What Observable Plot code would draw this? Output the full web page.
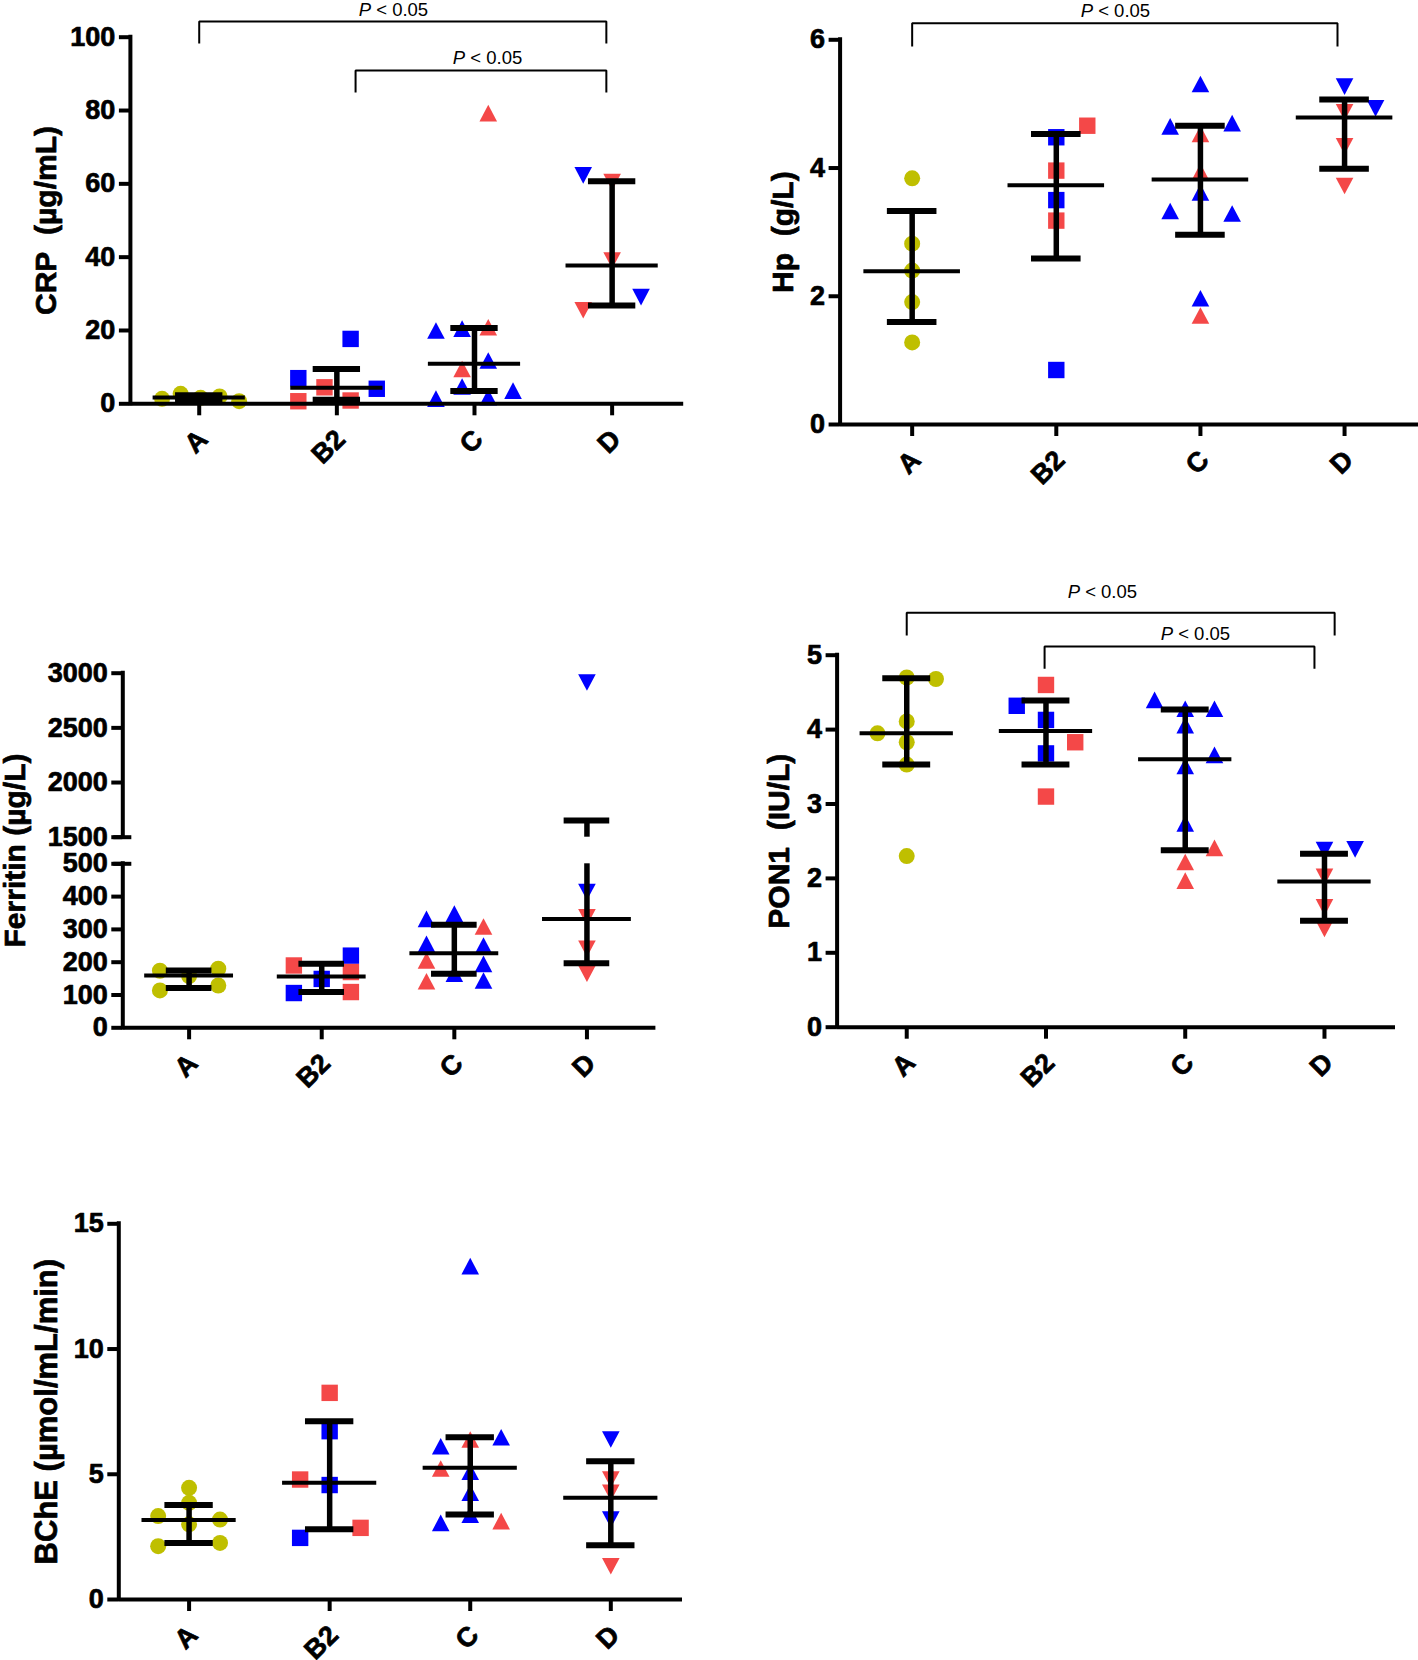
<!DOCTYPE html>
<html><head><meta charset="utf-8">
<script src="https://cdn.jsdelivr.net/npm/d3@7"></script>
<script src="https://cdn.jsdelivr.net/npm/@observablehq/plot@0.6"></script>
<style>
html,body{margin:0;padding:0;background:#fff;}
#fig{position:relative;width:1418px;height:1660px;background:#fff;overflow:hidden;}
#fig svg{position:absolute;overflow:visible;}
#fig text.heavy{stroke:#000;stroke-width:0.7px;stroke-linejoin:round;}
</style></head><body><div id="fig"></div>
<script>
// ---------- data ----------
const groups = ["A", "B2", "C", "D"];
const seriesKeys = ["series1", "series2", "series3"];
const seriesColors = ["#bfbf00", "#f44848", "#0000ff"];

// [group, series, value, horizontal spread (fraction of category step)]
const crpPoints = [
  ["A","series1",1.36,-0.27],["A","series1",2.73,-0.135],["A","series1",1.64,0.01],["A","series1",2.0,0.148],["A","series1",0.71,0.29],
  ["B2","series3",7.0,-0.28],["B2","series3",17.7,0.10],["B2","series3",4.1,0.29],["B2","series2",0.7,-0.28],["B2","series2",4.5,-0.09],["B2","series2",0.9,0.10],
  ["C","series3",20.0,-0.28],["C","series3",20.5,-0.09],["C","series3",11.8,0.10],["C","series3",4.7,-0.09],["C","series3",1.4,-0.28],["C","series3",1.8,0.10],["C","series3",3.6,0.28],
  ["C","series2",79.3,0.10],["C","series2",20.9,0.10],["C","series2",9.5,-0.09],
  ["D","series3",62.3,-0.21],["D","series3",29.1,0.21],["D","series2",60.5,0],["D","series2",39.1,0],["D","series2",25.5,-0.21]
];
const crpMean = [1.75, 4.36, 10.9, 37.7];
const crpLow  = [1.05, 1.1, 3.5, 26.8];
const crpHigh = [2.35, 9.5, 20.7, 60.7];

const hpPoints = [
  ["A","series1",3.84,0],["A","series1",2.82,0],["A","series1",2.40,0],["A","series1",1.91,0],["A","series1",1.28,0],
  ["B2","series2",4.66,0.215],["B2","series2",3.96,0],["B2","series2",3.18,0],["B2","series3",4.48,0],["B2","series3",3.50,0],["B2","series3",0.85,0],
  ["C","series3",5.31,0],["C","series3",4.65,-0.21],["C","series3",4.70,0.22],["C","series3",3.62,0],["C","series3",3.33,-0.21],["C","series3",3.29,0.22],["C","series3",1.97,0],
  ["C","series2",4.53,0],["C","series2",3.94,0],["C","series2",1.70,0],
  ["D","series3",5.27,0],["D","series3",4.93,0.215],["D","series2",4.87,0],["D","series2",4.34,0],["D","series2",3.72,0]
];
const hpMean = [2.39, 3.73, 3.82, 4.79];
const hpLow  = [1.60, 2.59, 2.96, 3.99];
const hpHigh = [3.33, 4.53, 4.66, 5.07];

const ferPoints = [
  ["A","series1",174,-0.22],["A","series1",114,-0.22],["A","series1",158,0],["A","series1",180,0.22],["A","series1",129,0.22],
  ["B2","series2",190,-0.21],["B2","series3",106,-0.21],["B2","series3",149,0],["B2","series3",220,0.22],["B2","series2",170,0.22],["B2","series2",109,0.22],
  ["C","series3",332,-0.21],["C","series3",348,0],["C","series2",309,0.22],["C","series3",256,-0.21],["C","series3",251,0.22],["C","series2",205,-0.21],
  ["C","series3",195,0.22],["C","series2",142,-0.21],["C","series3",144,0.22],["C","series3",165,0],
  ["D","series3",2915,0],["D","series3",414,0],["D","series2",337,0],["D","series2",241,0],["D","series2",165,0]
];
const ferMean = [159.5, 156.5, 227.6, 332];
const ferLow  = [121, 109, 164.6, 197];
const ferHigh = [175, 195, 314, 1652];

const ponPoints = [
  ["A","series1",4.70,0],["A","series1",4.68,0.21],["A","series1",3.95,-0.21],["A","series1",4.11,0],["A","series1",3.83,0],["A","series1",3.53,0],["A","series1",2.30,0],
  ["B2","series2",4.60,0],["B2","series3",4.32,-0.21],["B2","series3",4.13,0],["B2","series2",3.83,0.21],["B2","series3",3.68,0],["B2","series2",3.10,0],
  ["C","series3",4.40,-0.22],["C","series3",4.28,0],["C","series3",4.28,0.21],["C","series3",4.06,0],["C","series3",3.66,0.21],["C","series3",3.51,0],["C","series3",2.74,0],
  ["C","series2",2.41,0.21],["C","series2",2.22,0],["C","series2",1.97,0],
  ["D","series3",2.38,0],["D","series3",2.39,0.22],["D","series2",2.02,0],["D","series2",1.61,0],["D","series2",1.32,0]
];
const ponMean = [3.95, 3.98, 3.60, 1.96];
const ponLow  = [3.53, 3.53, 2.38, 1.43];
const ponHigh = [4.69, 4.39, 4.27, 2.33];

const bchePoints = [
  ["A","series1",4.46,0],["A","series1",3.33,-0.22],["A","series1",3.86,0],["A","series1",3.0,0],["A","series1",3.19,0.22],["A","series1",2.13,-0.22],["A","series1",2.26,0.22],
  ["B2","series2",8.25,0],["B2","series3",6.72,0],["B2","series2",4.79,-0.21],["B2","series3",4.57,0],["B2","series2",2.86,0.22],["B2","series3",2.46,-0.21],
  ["C","series3",13.31,0],["C","series3",6.12,-0.21],["C","series2",6.39,0],["C","series3",6.48,0.22],["C","series2",5.23,-0.21],["C","series3",5.10,0],["C","series3",4.26,0],
  ["C","series3",3.39,0],["C","series3",3.06,-0.21],["C","series2",3.13,0.22],
  ["D","series3",6.39,0],["D","series2",4.79,0],["D","series2",4.26,0],["D","series3",3.19,0],["D","series2",1.33,0]
];
const bcheMean = [3.17, 4.66, 5.26, 4.06];
const bcheLow  = [2.26, 2.80, 3.39, 2.17];
const bcheHigh = [3.77, 7.12, 6.48, 5.52];

const crpTicks = [0, 20, 40, 60, 80, 100];
const hpTicks = [0, 2, 4, 6];
const ferTicks = [0, 100, 200, 300, 400, 500, 1500, 2000, 2500, 3000];
const ponTicks = [0, 1, 2, 3, 4, 5];
const bcheTicks = [0, 5, 10, 15];

// significance brackets (category-index / data units)
const crpBrackets = [
  {x1: 0, x2: 2.958, y: 104.3, drop: 98.3, labelX: 1.411, labelY: 105.9, label: "P < 0.05"},
  {x1: 1.136, x2: 2.958, y: 90.9, drop: 84.9, labelX: 2.095, labelY: 92.7, label: "P < 0.05"}
];
const hpBrackets = [
  {x1: 0, x2: 2.951, y: 6.259, drop: 5.897, labelX: 1.41, labelY: 6.352, label: "P < 0.05"}
];
const ponBrackets = [
  {x1: 0, x2: 3.073, y: 5.570, drop: 5.265, labelX: 1.405, labelY: 5.771, label: "P < 0.05"},
  {x1: 0.99, x2: 2.928, y: 5.117, drop: 4.817, labelX: 2.073, labelY: 5.198, label: "P < 0.05"}
];

// ---------- drawing ----------
const rOf = p => Math.sqrt(p / Math.PI);
const symbols = {
  A:  {draw(c, s) { const r = rOf(s); c.moveTo(r, 0); c.arc(0, 0, r, 0, 2 * Math.PI); c.closePath(); }},
  B2: {draw(c, s) { const r = rOf(s); c.rect(-r, -r, 2 * r, 2 * r); }},
  C:  {draw(c, s) { const r = rOf(s); c.moveTo(0, -r); c.lineTo(1.06 * r, r); c.lineTo(-1.06 * r, r); c.closePath(); }},
  D:  {draw(c, s) { const r = rOf(s); c.moveTo(0, r); c.lineTo(1.06 * r, -r); c.lineTo(-1.06 * r, -r); c.closePath(); }}
};
const markerR = {A: 8, B2: 8.2, C: 8.3, D: 8.3};

function panel(cfg) {
  const {left, top, width, height, xRange, xMax, yDomain, yRange, yTicks,
         points, mean, low, high, title, titleDx, titleSize = 30, brackets = [], yBreak = null} = cfg;
  const xDomain = [-0.5, xMax];
  const yMin = yDomain[0], yMax = yDomain[yDomain.length - 1];
  const pts = points.map(([g, s, v, sp]) => ({g, s, v, x: groups.indexOf(g) + sp}));
  const stats = groups.map((g, i) => ({i, mean: mean[i], low: low[i], high: high[i]}));
  const axisSegs = yBreak ? [[yMin, yBreak[0]], [yBreak[1], yMax]] : [[yMin, yMax]];
  const vSegs = [];
  for (const d of stats) {
    if (yBreak && d.high > yBreak[1]) {
      vSegs.push({i: d.i, y1: d.low, y2: yBreak[0]});
      vSegs.push({i: d.i, y1: yBreak[1], y2: d.high});
    } else vSegs.push({i: d.i, y1: d.low, y2: d.high});
  }
  const bracketPath = brackets.flatMap((b, k) => [
    {k, x: b.x1, y: b.drop}, {k, x: b.x1, y: b.y}, {k, x: b.x2, y: b.y}, {k, x: b.x2, y: b.drop}
  ]);
  const heavy = {fontWeight: "bold", className: "heavy"};
  const marks = [];
  for (const g of groups) {
    marks.push(Plot.dot(pts.filter(p => p.g === g), {x: "x", y: "v", fill: "s", r: markerR[g], symbol: symbols[g]}));
  }
  marks.push(
    Plot.ruleX(vSegs, {x: "i", y1: "y1", y2: "y2", stroke: "black", strokeWidth: 5.5}),
    Plot.ruleY(stats, {y: "high", x1: d => d.i - 0.172, x2: d => d.i + 0.172, stroke: "black", strokeWidth: 6}),
    Plot.ruleY(stats, {y: "low", x1: d => d.i - 0.172, x2: d => d.i + 0.172, stroke: "black", strokeWidth: 6}),
    Plot.ruleY(stats, {y: "mean", x1: d => d.i - 0.335, x2: d => d.i + 0.335, stroke: "black", strokeWidth: 4}),
    // axes
    Plot.ruleX(axisSegs, {x: xDomain[0], y1: d => d[0], y2: d => d[1], stroke: "black", strokeWidth: 4, strokeLinecap: "square"}),
    Plot.ruleY([yMin], {x1: xDomain[0], x2: xDomain[1], stroke: "black", strokeWidth: 4}),
    Plot.axisY({ticks: yTicks, tickSize: 11, strokeWidth: 4, tickFormat: () => "", label: null}),
    Plot.text(yTicks, {x: xDomain[0], y: d => d, text: d => String(d), textAnchor: "end", dx: -15, fontSize: 27, ...heavy}),
    Plot.axisX({ticks: [0, 1, 2, 3], tickSize: 12, strokeWidth: 4, tickFormat: () => "", label: null}),
    Plot.text(groups, {x: (d, i) => i, y: yMin, text: d => d, rotate: -45, textAnchor: "end", lineAnchor: "middle", dx: 4, dy: 31, fontSize: 27, ...heavy}),
    Plot.text([title], {frameAnchor: "left", dx: titleDx, rotate: -90, textAnchor: "middle", lineAnchor: "middle", fontSize: titleSize, ...heavy})
  );
  if (yBreak) {
    marks.push(Plot.ruleY(yBreak, {x1: xDomain[0] - 0.068, x2: xDomain[0] + 0.068, stroke: "black", strokeWidth: 4}));
  }
  if (brackets.length) {
    marks.push(
      Plot.line(bracketPath, {x: "x", y: "y", z: "k", stroke: "black", strokeWidth: 2, strokeLinejoin: "miter", strokeLinecap: "butt"}),
      Plot.text(brackets, {x: "labelX", y: "labelY", text: "label", lineAnchor: "bottom", fontSize: 18.5, fontWeight: "normal"})
    );
  }
  const svg = Plot.plot({
    width, height,
    marginLeft: xRange[0], marginRight: width - xRange[1],
    marginTop: yRange[yRange.length - 1], marginBottom: height - yRange[0],
    x: {type: "linear", domain: xDomain, range: xRange},
    y: {type: "linear", domain: yDomain, range: yRange},
    color: {type: "ordinal", domain: seriesKeys, range: seriesColors},
    style: {fontFamily: '"Liberation Sans", Arial, Helvetica, sans-serif', fontWeight: "bold", color: "black", background: "none", overflow: "visible"},
    marks
  });
  // mark heavy texts, italic P in significance labels
  for (const g of svg.querySelectorAll("g.heavy")) for (const t of g.querySelectorAll("text")) t.classList.add("heavy");
  for (const t of svg.querySelectorAll("text")) {
    if (t.textContent === "P < 0.05") {
      t.textContent = "";
      const ns = "http://www.w3.org/2000/svg";
      const a = document.createElementNS(ns, "tspan");
      a.setAttribute("font-style", "italic");
      a.textContent = "P";
      const b = document.createElementNS(ns, "tspan");
      b.textContent = " < 0.05";
      t.append(a, b);
    }
  }
  svg.style.position = "absolute";
  svg.style.left = left + "px";
  svg.style.top = top + "px";
  svg.style.maxWidth = "none";
  document.getElementById("fig").append(svg);
}

panel({left: 0, top: 0, width: 700, height: 480, xRange: [129.9, 683.2], xMax: 3.52,
  yDomain: [0, 100], yRange: [403.3, 36.7], yTicks: crpTicks,
  points: crpPoints, mean: crpMean, low: crpLow, high: crpHigh,
  title: "CRP\u00a0 (µg/mL)", titleDx: -84, brackets: crpBrackets});

panel({left: 700, top: 0, width: 718, height: 480, xRange: [139.6, 718], xMax: 3.513,
  yDomain: [0, 6], yRange: [424, 39.3], yTicks: hpTicks,
  points: hpPoints, mean: hpMean, low: hpLow, high: hpHigh,
  title: "Hp\u00a0 (g/L)", titleDx: -57, brackets: hpBrackets});

panel({left: 0, top: 560, width: 700, height: 520, xRange: [122.3, 655.4], xMax: 3.52,
  yDomain: [0, 500, 1500, 3000], yRange: [467.3, 303.3, 276.7, 112.7], yTicks: ferTicks,
  points: ferPoints, mean: ferMean, low: ferLow, high: ferHigh,
  title: "Ferritin (µg/L)", titleDx: -107.5, yBreak: [500, 1500]});

panel({left: 700, top: 560, width: 718, height: 520, xRange: [136.6, 695], xMax: 3.51,
  yDomain: [0, 5], yRange: [466.7, 94.7], yTicks: ponTicks,
  points: ponPoints, mean: ponMean, low: ponLow, high: ponHigh,
  title: "PON1\u00a0 (IU/L)", titleDx: -57.6, brackets: ponBrackets});

panel({left: 0, top: 1180, width: 700, height: 480, xRange: [118.3, 682], xMax: 3.51,
  yDomain: [0, 15], yRange: [419, 43.3], yTicks: bcheTicks,
  points: bchePoints, mean: bcheMean, low: bcheLow, high: bcheHigh,
  title: "BChE (µmol/mL/min)", titleDx: -71.6, titleSize: 31});
</script>
</body></html>
